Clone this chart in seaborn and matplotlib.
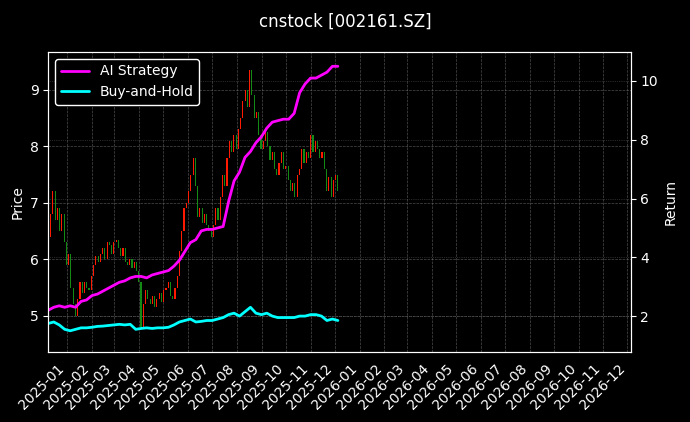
import numpy as np
import pandas as pd
import matplotlib
matplotlib.use("Agg")
import matplotlib.pyplot as plt
import matplotlib.dates as mdates
import seaborn as sns

# price closes, roughly every other trading day, Dec 2024 - Dec 2025
closes = [6.4, 6.8, 7.2, 6.7, 6.9, 6.5, 6.8, 6.3,
          5.9, 6.1, 5.5, 5.2, 5.0, 5.3, 5.6, 5.4, 5.6, 5.5, 5.45,
          5.7, 5.9, 6.05, 5.95, 6.1, 6.2, 6.0, 6.3, 6.25, 6.1,
          6.3, 6.35, 6.2, 6.05, 6.2, 5.95, 5.9, 6.0, 5.85, 5.95, 5.8,
          5.6, 4.8, 5.2, 5.45, 5.3, 5.2, 5.35, 5.15, 5.3, 5.4, 5.25,
          5.45, 5.5, 5.6, 5.35, 5.3, 5.5, 5.7, 6.15, 6.5, 6.9, 7.0,
          7.2, 7.5, 7.8, 7.3, 6.75, 6.9, 6.65, 6.8, 6.6, 6.5,
          6.4, 6.6, 6.9, 6.7, 7.1, 7.5, 7.3, 7.8, 8.1, 7.9, 8.2, 7.95,
          8.3, 8.5, 8.8, 9.0, 8.7, 9.35, 8.9, 8.5, 8.6, 8.2,
          7.95, 8.1, 8.25, 8.0, 7.75, 7.9, 7.6, 7.5, 7.7, 7.9, 7.6,
          7.65, 7.4, 7.2, 7.35, 7.1, 7.5, 7.6, 7.95, 7.7, 7.9, 7.8,
          8.2, 7.9, 8.1, 7.95, 7.8, 7.9, 7.6, 7.2, 7.45, 7.1,
          7.4, 7.5, 7.2]
first_open = 6.3

# weekly cumulative returns
ai_strategy = [2.2, 2.3, 2.35,
               2.3, 2.35, 2.3, 2.5, 2.55,
               2.7, 2.75, 2.85, 2.95,
               3.05, 3.15, 3.2, 3.3,
               3.35, 3.35, 3.3, 3.4, 3.45,
               3.5, 3.55, 3.7, 3.9,
               4.2, 4.5, 4.6, 4.9, 4.95,
               4.95, 5.0, 5.05, 5.9, 6.6,
               6.9, 7.4, 7.6, 7.9,
               8.1, 8.4, 8.6, 8.65, 8.7,
               8.7, 8.9, 9.6, 9.9, 10.1,
               10.1, 10.2, 10.3, 10.5,
               10.5]
buy_hold = [1.75, 1.8, 1.7,
            1.55, 1.5, 1.55, 1.6, 1.6,
            1.62, 1.65, 1.66, 1.68,
            1.7, 1.72, 1.7, 1.72,
            1.55, 1.58, 1.6, 1.58, 1.6,
            1.6, 1.62, 1.7, 1.8,
            1.85, 1.9, 1.8, 1.82, 1.85,
            1.85, 1.9, 1.95, 2.05, 2.1,
            2.0, 2.15, 2.3, 2.1,
            2.05, 2.1, 2.0, 1.95, 1.95,
            1.95, 1.95, 2.0, 2.0, 2.05,
            2.05, 2.0, 1.85, 1.9,
            1.85]

start, end = pd.Timestamp("2024-12-09"), pd.Timestamp("2025-12-05")
px_dates = pd.to_datetime(np.linspace(start.value, end.value, len(closes)))
ret_dates = pd.to_datetime(np.linspace(start.value, end.value, len(ai_strategy)))

sns.set_style("dark", {"axes.facecolor": "black", "figure.facecolor": "black"})
plt.rcParams.update({"text.color": "white", "axes.labelcolor": "white",
                     "xtick.color": "white", "ytick.color": "white",
                     "axes.edgecolor": "white"})

fig = plt.figure(figsize=(6.9, 4.22), dpi=100)
ax = fig.add_axes([0.07, 0.166, 0.844, 0.711])

opens = [first_open] + closes[:-1]
cols = ["#ff1a00" if c >= o else "#138a13" for o, c in zip(opens, closes)]
bottoms = [min(o, c) for o, c in zip(opens, closes)]
heights = [max(abs(c - o), 0.02) for o, c in zip(opens, closes)]
ax.bar(px_dates, heights, bottom=bottoms, width=1.4, color=cols, linewidth=0)
ax.set_ylim(4.36, 9.67)
ax.set_ylabel("Price")
ax.grid(True, color="gray", linestyle="--", linewidth=0.5, alpha=0.6)

ax2 = ax.twinx()
df = pd.DataFrame({"date": ret_dates, "AI Strategy": ai_strategy, "Buy-and-Hold": buy_hold})
sns.lineplot(data=df, x="date", y="AI Strategy", ax=ax2, color="magenta", lw=2, label="AI Strategy")
sns.lineplot(data=df, x="date", y="Buy-and-Hold", ax=ax2, color="cyan", lw=2, label="Buy-and-Hold")
ax2.set_ylim(0.78, 10.99)
ax2.set_yticks([2, 4, 6, 8, 10])
ax2.set_ylabel("Return")
ax2.grid(True, color="gray", linestyle=":", linewidth=0.5, alpha=0.6)
leg = ax2.legend(loc="upper left", facecolor="black", edgecolor="white", framealpha=1)
for t in leg.get_texts():
    t.set_color("white")

ax.set_xlim(pd.Timestamp("2024-12-09"), pd.Timestamp("2026-12-05"))
ax.xaxis.set_major_locator(mdates.MonthLocator())
ax.xaxis.set_major_formatter(mdates.DateFormatter("%Y-%m"))
ax.set_xlabel("")
ax2.set_xlabel("")
plt.setp(ax.get_xticklabels(), rotation=45, ha="right")

fig.suptitle("cnstock [002161.SZ]", color="white", fontsize=12, y=0.97)
fig.savefig("out.png", dpi=100, facecolor="black")
